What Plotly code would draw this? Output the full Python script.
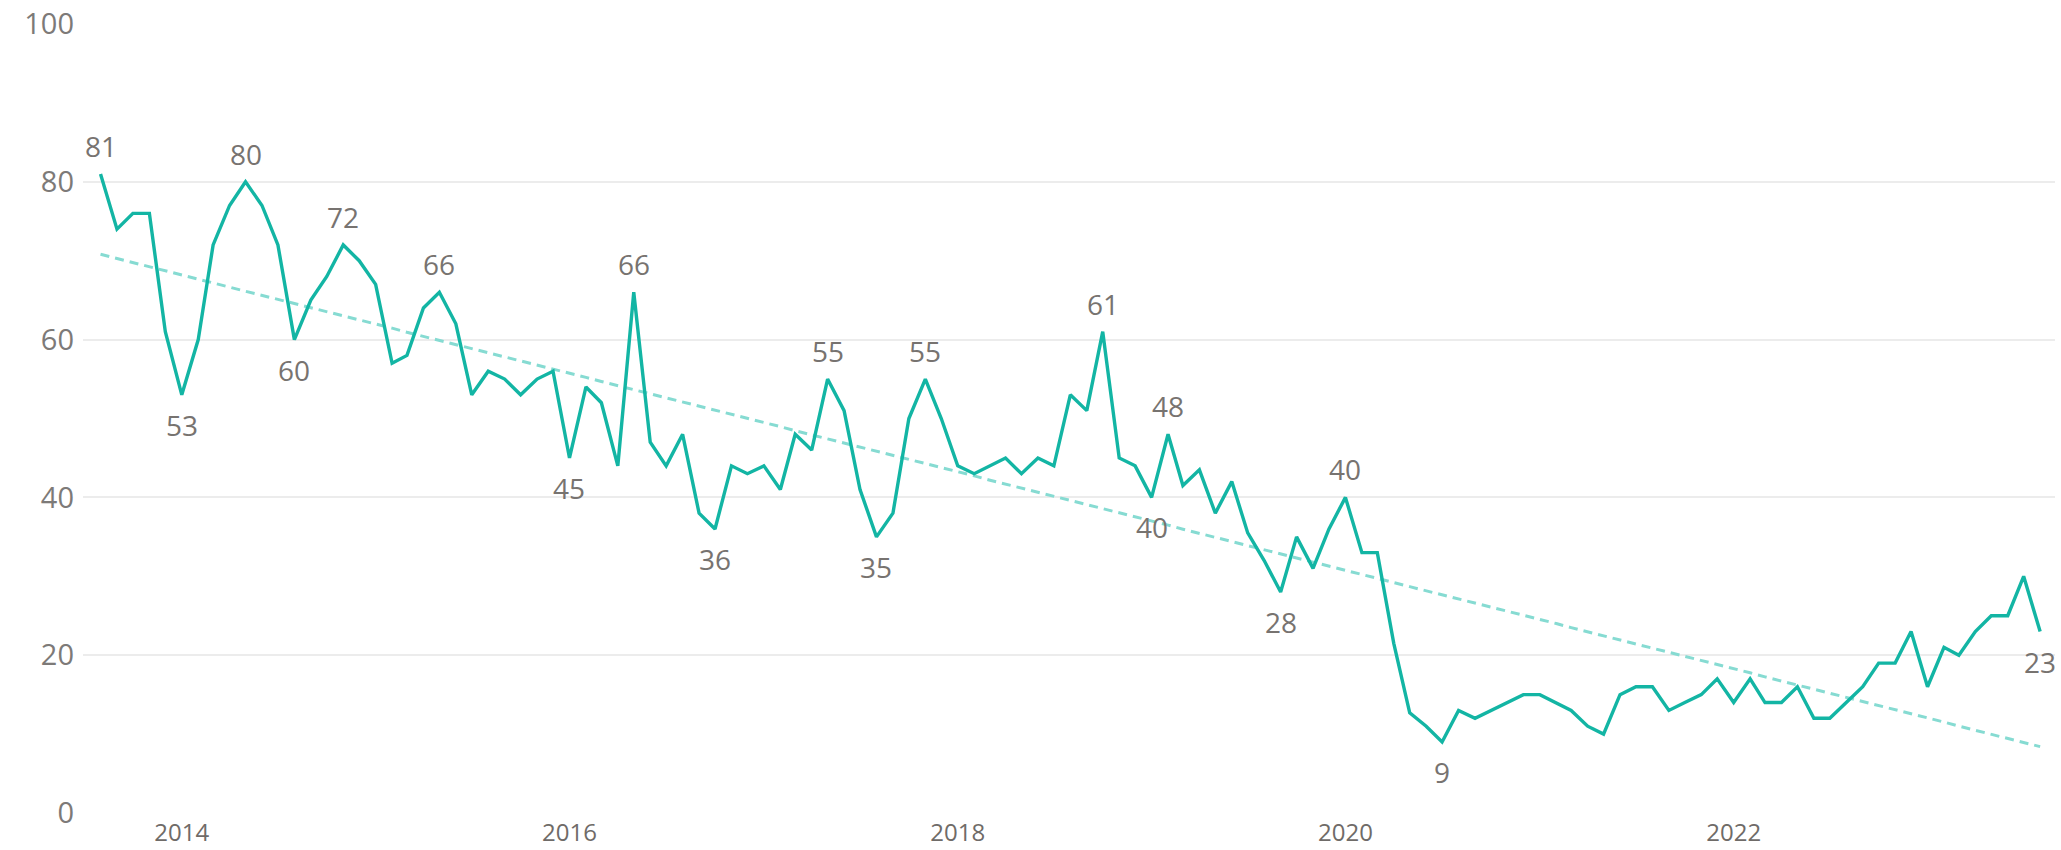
import numpy as np
import pandas as pd
import plotly.graph_objects as go

# Monthly series, Aug 2013 .. Aug 2023
start_month = "2013-08-01"
values = [
    81, 74, 76, 76, 61, 53, 60, 72, 77, 80, 77, 72, 60, 65, 68, 72, 70, 67, 57, 58,
    64, 66, 62, 53, 56, 55, 53, 55, 56, 45, 54, 52, 44, 66, 47, 44, 48, 38, 36, 44,
    43, 44, 41, 48, 46, 55, 51, 41, 35, 38, 50, 55, 50, 44, 43, 44, 45, 43, 45, 44,
    53, 51, 61, 45, 44, 40, 48, 41.5, 43.5, 38, 42, 35.5, 32, 28, 35, 31, 36, 40, 33, 33,
    21.5, 12.7, 11, 9, 13, 12, 13, 14, 15, 15, 14, 13, 11, 10, 15, 16, 16, 13, 14, 15,
    17, 14, 17, 14, 14, 16, 12, 12, 14, 16, 19, 19, 23, 16, 21, 20, 23, 25, 25, 30, 23,
]
months = pd.date_range(start_month, periods=len(values), freq="MS")

# data labels: (index, position)
label_idx = [0, 5, 9, 12, 15, 21, 29, 33, 38, 45, 48, 51, 62, 65, 66, 73, 77, 83, 120]
label_pos = ["top", "bottom", "top", "bottom", "top", "top", "bottom", "top", "bottom",
             "top", "bottom", "top", "top", "bottom", "top", "bottom", "top", "bottom", "bottom"]

y_ticks = [0, 20, 40, 60, 80, 100]

# linear trend
xi = np.arange(len(values))
slope, intercept = np.polyfit(xi, np.array(values, dtype=float), 1)
trend = intercept + slope * xi

LINE = "#13B5A4"
TREND = "#86DBD2"
TXT = "#777370"
FONT = "Segoe UI, Open Sans, sans-serif"

fig = go.Figure()
fig.add_trace(go.Scatter(x=months, y=trend, mode="lines",
                         line=dict(color=TREND, width=3, dash="9px,6px"),
                         hoverinfo="skip", showlegend=False))
fig.add_trace(go.Scatter(x=months, y=values, mode="lines",
                         line=dict(color=LINE, width=3.4),
                         showlegend=False))

for i, p in zip(label_idx, label_pos):
    v = values[i]
    fig.add_annotation(x=months[i], y=v, xref="x", yref="y",
                       text=f"{v:g}", showarrow=False,
                       yshift=28 if p == "top" else -30,
                       font=dict(family=FONT, size=28, color=TXT))

fig.update_layout(
    width=2061, height=850,
    margin=dict(l=83, r=6, t=24, b=37, autoexpand=False),
    paper_bgcolor="white", plot_bgcolor="white",
    font=dict(family=FONT, color=TXT),
)
fig.update_xaxes(
    type="date",
    range=["2013-06-29", "2023-08-29"],
    tick0="2014-01-01", dtick="M24", tickformat="%Y",
    showgrid=False, zeroline=False, showline=False, ticks="",
    tickfont=dict(family=FONT, size=24, color="#6f6b68"),
    ticklabelstandoff=3,
)
fig.update_yaxes(
    range=[0, 100], tickvals=y_ticks,
    showgrid=True, gridcolor="#ECECEC", gridwidth=1.5,
    zeroline=False, showline=False, ticks="",
    tickfont=dict(family=FONT, size=29, color="#7d7a78"),
    ticklabelstandoff=8,
)

fig.write_html("out.html",
               config={"displayModeBar": False},
               post_script="document.body.style.margin='0';document.body.style.overflow='hidden';")
